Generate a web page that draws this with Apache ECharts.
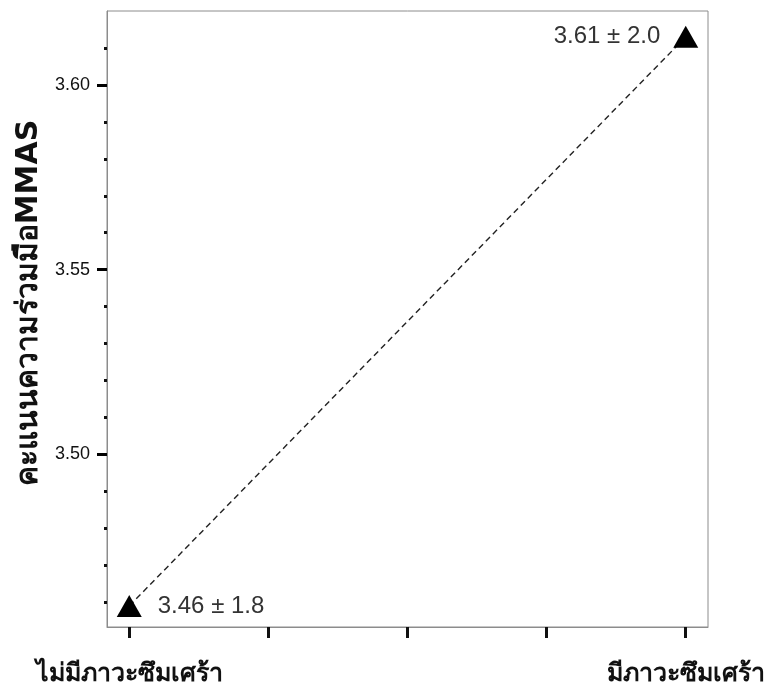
<!DOCTYPE html>
<html>
<head>
<meta charset="utf-8">
<script src="https://cdn.jsdelivr.net/npm/echarts@6/dist/echarts.min.js"></script>
<style>
  html, body { margin: 0; padding: 0; background: #fff; }
  #main { width: 771px; height: 692px; }
</style>
</head>
<body>
<div id="main"></div>
<script>
// ค่าเฉลี่ยคะแนนความร่วมมือ MMAS
var groupNames = ['ไม่มีภาวะซึมเศร้า', 'มีภาวะซึมเศร้า'];
var groupX = [0, 4];
var meanValues = [3.459, 3.613];
var pointLabels = ['3.46 ± 1.8', '3.61 ± 2.0'];
var xTicks = [0, 1, 2, 3, 4];
var yMajorTicks = [3.50, 3.55, 3.60];
var yMinorTicks = [3.46, 3.47, 3.48, 3.49, 3.51, 3.52, 3.53, 3.54, 3.56, 3.57, 3.58, 3.59, 3.61];
var yName = 'คะแนนความร่วมมือMMAS';

var dom = document.getElementById('main');
var myChart = echarts.init(dom);

var yMin = 3.4533, yMax = 3.62;
var thaiFont = 'Tahoma, "DejaVu Sans", "Noto Sans", sans-serif';

myChart.setOption({
    animation: false,
    grid: {
        left: 107,
        right: 63,
        top: 11,
        bottom: 65,
        show: true,
        borderColor: '#8c8c8c',
        borderWidth: 1
    },
    xAxis: {
        type: 'value',
        min: -0.16,
        max: 4.16,
        splitLine: { show: false },
        axisLine: { show: true, onZero: false, lineStyle: { color: '#8c8c8c', width: 1 } },
        axisTick: {
            show: true,
            customValues: xTicks,
            length: 11,
            lineStyle: { color: '#111', width: 3 }
        },
        axisLabel: {
            customValues: groupX,
            margin: 35,
            color: '#111',
            fontSize: 25,
            fontWeight: 'bold',
            fontFamily: thaiFont,
            formatter: function (v) {
                var i = groupX.indexOf(Math.round(v));
                return i >= 0 ? groupNames[i] : '';
            }
        }
    },
    yAxis: [{
        type: 'value',
        min: yMin,
        max: yMax,
        position: 'left',
        splitLine: { show: false },
        axisLine: { show: false, onZero: false },
        axisLabel: { show: false },
        axisTick: {
            show: true,
            customValues: yMinorTicks,
            length: 3,
            lineStyle: { color: '#111', width: 3 }
        }
    }, {
        type: 'value',
        min: yMin,
        max: yMax,
        position: 'left',
        name: yName,
        nameLocation: 'middle',
        nameGap: 58,
        nameTextStyle: {
            color: '#111',
            fontSize: 30,
            fontWeight: 'bold',
            fontFamily: thaiFont,
            padding: [0, 0, 0, 32]
        },
        splitLine: { show: false },
        axisLine: { show: true, onZero: false, lineStyle: { color: '#8c8c8c', width: 1 } },
        axisTick: {
            show: true,
            customValues: yMajorTicks,
            length: 10,
            lineStyle: { color: '#000', width: 3 }
        },
        axisLabel: {
            customValues: yMajorTicks,
            margin: 17,
            color: '#111',
            fontSize: 18,
            fontFamily: '"Liberation Sans", Arial, sans-serif',
            formatter: function (v) { return v.toFixed(2); }
        }
    }],
    series: [{
        type: 'line',
        data: [
            { value: [groupX[0], meanValues[0]], label: { position: 'right', distance: 16 } },
            { value: [groupX[1], meanValues[1]], label: { position: 'left', distance: 13 } }
        ],
        symbol: 'triangle',
        symbolSize: [25, 22],
        itemStyle: { color: '#000' },
        lineStyle: { color: '#222', width: 1.4, type: [6, 4] },
        label: {
            show: true,
            color: '#333',
            fontSize: 24,
            fontFamily: '"Liberation Sans", Arial, sans-serif',
            formatter: function (p) { return pointLabels[p.dataIndex]; }
        }
    }]
});
window.addEventListener('resize', function () {
    myChart.resize();
});
</script>
</body>
</html>
